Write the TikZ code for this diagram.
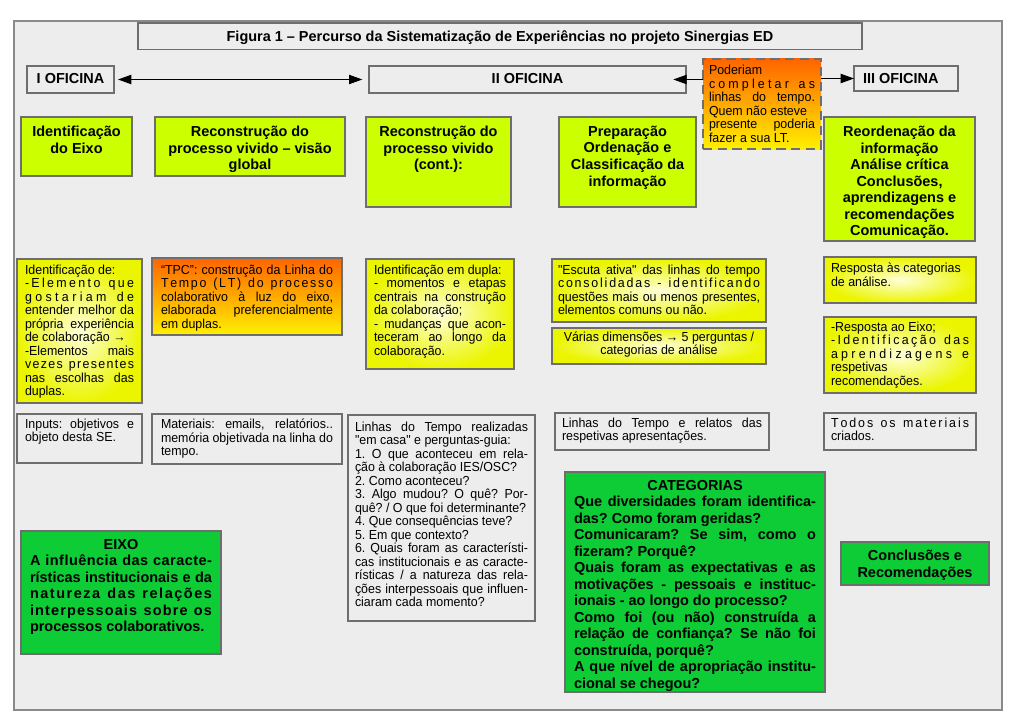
\documentclass[tikz,border=0pt]{standalone}
\usepackage{fontspec}
\setmainfont{Liberation Sans}
\newfontfamily\bodyfam{Liberation Sans}[FakeStretch=0.95]
\usetikzlibrary{arrows.meta}
\definecolor{bgc}{HTML}{EDEDED}
\definecolor{framec}{HTML}{8A8A8A}
\definecolor{bordc}{HTML}{6E6E6E}
\definecolor{limec}{HTML}{CCFF00}
\definecolor{grnc}{HTML}{0DCC35}
\definecolor{orgc}{HTML}{FF6400}
\definecolor{ylwb}{HTML}{FFF000}
\definecolor{ylwin}{HTML}{FFFFD8}
\definecolor{ylwout}{HTML}{EBF500}
\newcommand\bodyf{\bodyfam\fontsize{9.8}{10.1}\selectfont}
\newcommand\headf{\fontsize{10.85}{12.4}\selectfont\bfseries}
\newcommand\JL[1]{\hbox to\linewidth{#1}}
\newcommand\LL[1]{\hbox to\linewidth{#1\hfil}}
\newcommand\CL[1]{\hbox to\linewidth{\hfil#1\hfil}}
\ExplSyntaxOn
\NewDocumentCommand\SP{m}{
  \hbox_to_wd:nn {\linewidth}
    {
      \seq_set_split:Nnn \l_tmpa_seq { ~ } {#1}
      \bool_set_false:N \l_tmpa_bool
      \seq_map_inline:Nn \l_tmpa_seq
        {
          \bool_if:NT \l_tmpa_bool { \c_space_tl \hfil }
          \bool_set_true:N \l_tmpa_bool
          \tl_map_inline:nn {##1} { ####1 \hfil }
        }
      \unskip
    }
}
\ExplSyntaxOff
% name, style, x1, y1, x2, y2, padx, pady, content
\newcommand\mybox[9]{%
  \pgfmathsetmacro\bxw{0.75*(#5-#3)}%
  \pgfmathsetmacro\bxh{0.75*(#6-#4)}%
  \pgfmathsetmacro\bxpx{0.75*#7}%
  \pgfmathsetmacro\bxpy{0.75*#8}%
  \pgfmathsetmacro\bxiw{\bxw-2*\bxpx}%
  \pgfmathsetmacro\bxih{\bxh-2*\bxpy}%
  \node[#2,anchor=north west,inner xsep=\bxpx pt,inner ysep=\bxpy pt,
    minimum width=\bxw pt,minimum height=\bxh pt] (#1) at (#3,#4)
    {\parbox[t][\bxih pt][t]{\bxiw pt}{#9}};%
}
\begin{document}
\frenchspacing
\begin{tikzpicture}[x=0.75pt,y=-0.75pt,
  base/.style={draw=bordc,line width=0.8pt,inner sep=0pt,outer sep=0pt},
  plainbox/.style={base,fill=bgc},
  limebox/.style={base,fill=limec},
  grnbox/.style={base,fill=grnc},
  ylwbox/.style={base,inner color=ylwin,outer color=ylwout},
  orgbox/.style={base,top color=orgc,bottom color=ylwb},
  dshbox/.style={orgbox,dash pattern=on 7pt off 4pt},
  arr/.style={line width=0.75pt,-{Triangle[length=10pt,width=7pt]}},
  darr/.style={line width=0.75pt,{Triangle[length=10pt,width=7pt]}-{Triangle[length=10pt,width=7pt]}}
]
\useasboundingbox (0,0) rectangle (1024,724);
\fill[white] (0,0) rectangle (1024,724);
\draw[framec,fill=bgc,line width=1pt] (14,21) rectangle (1002,710);

\mybox{title}{plainbox}{138}{23}{862}{49}{4}{7.8}{\headf\CL{Figura 1 – Percurso da Sistematização de Experiências no projeto Sinergias ED}}
\mybox{of1}{plainbox}{27}{66}{114}{93}{4}{7.8}{\headf\CL{I OFICINA}}
\mybox{of2}{plainbox}{369}{66}{686}{93}{4}{7.8}{\headf\CL{II OFICINA}}
\mybox{of3}{plainbox}{854}{66}{958}{91}{9}{7.4}{\headf\LL{III OFICINA}}

\mybox{pod}{dshbox}{703}{59}{821}{149}{6}{6.5}{\bodyf
  \LL{Poderiam}\SP{completar as}\JL{linhas do tempo.}\LL{Quem não esteve}\JL{presente poderia}\LL{fazer a sua LT.}}

\draw[darr,shorten <=3pt,shorten >=5pt] (of1.east) -- (of2.west);
\draw[arr,shorten >=-9.5pt] (pod.west |- of2.east) -- (of2.east);
\draw[arr] (pod.east |- of3.west) -- (of3.west);

\mybox{h1}{limebox}{21}{117}{132}{176}{3}{9}{\headf\CL{Identificação}\CL{do Eixo}}
\mybox{h2}{limebox}{155}{117}{345}{176}{3}{9}{\headf\CL{Reconstrução do}\CL{processo vivido – visão}\CL{global}}
\mybox{h3}{limebox}{366}{117}{511}{207}{3}{9}{\headf\CL{Reconstrução do}\CL{processo vivido}\CL{(cont.):}}
\mybox{h4}{limebox}{559}{117}{696}{207}{3}{9}{\headf\CL{Preparação}\CL{Ordenação e}\CL{Classificação da}\CL{informação}}
\mybox{h5}{limebox}{824}{117}{975}{241}{3}{9}{\headf\CL{Reordenação da}\CL{informação}\CL{Análise crítica}\CL{Conclusões,}\CL{aprendizagens e}\CL{recomendações}\CL{Comunicação.}}

\mybox{b1}{ylwbox}{17}{259}{142}{403}{8}{6}{\bodyf
  \LL{Identificação de:}\SP{-Elemento que}\SP{gostariam de}\JL{entender melhor da}\JL{própria experiência}\LL{de colaboração →}\JL{-Elementos mais}\SP{vezes presentes}\JL{nas escolhas das}\LL{duplas.}}
\mybox{b2}{orgbox}{152}{258}{342}{335}{9}{7}{\bodyf
  \JL{“TPC”: construção da Linha do}\SP{Tempo (LT) do processo}\JL{colaborativo à luz do eixo,}\JL{elaborada preferencialmente}\LL{em duplas.}}
\mybox{b3}{ylwbox}{366}{259}{514}{369}{8}{6}{\bodyf
  \LL{Identificação em dupla:}\JL{- momentos e etapas}\JL{centrais na construção}\LL{da colaboração;}\JL{- mudanças que acon-}\JL{teceram ao longo da}\LL{colaboração.}}
\mybox{b4}{ylwbox}{552}{259}{766}{322}{6}{6}{\bodyf
  \JL{"Escuta ativa" das linhas do tempo}\SP{consolidadas - identificando}\JL{questões mais ou menos presentes,}\LL{elementos comuns ou não.}}
\mybox{b5}{ylwbox}{552}{328}{766}{364}{3}{3.5}{\bodyf
  \CL{Várias dimensões → 5 perguntas /}\CL{categorias de análise}}
\mybox{b6}{ylwbox}{824}{257}{976}{303}{7}{6}{\bodyf
  \LL{Resposta às categorias}\LL{de análise.}}
\mybox{b7}{ylwbox}{824}{317}{976}{393}{7}{5}{\bodyf
  \LL{-Resposta ao Eixo;}\SP{-Identificação das}\SP{aprendizagens e}\LL{respetivas}\LL{recomendações.}}

\mybox{m1}{plainbox}{17}{414}{142}{463}{8}{5}{\bodyf
  \JL{Inputs: objetivos e}\LL{objeto desta SE.}}
\mybox{m2}{plainbox}{152}{414}{342}{464}{9}{5}{\bodyf
  \JL{Materiais: emails, relatórios..}\JL{memória objetivada na linha do}\LL{tempo.}}
\mybox{m3}{plainbox}{348}{415}{535}{621}{7}{7}{\bodyf
  \JL{Linhas do Tempo realizadas}\LL{"em casa" e perguntas-guia:}\JL{1. O que aconteceu em rela-}\LL{ção à colaboração IES/OSC?}\LL{2. Como aconteceu?}\JL{3. Algo mudou? O quê? Por-}\LL{quê? / O que foi determinante?}\LL{4. Que consequências teve?}\LL{5. Em que contexto?}\JL{6. Quais foram as característi-}\JL{cas institucionais e as caracte-}\JL{rísticas / a natureza das rela-}\JL{ções interpessoais que influen-}\LL{ciaram cada momento?}}
\mybox{m4}{plainbox}{555}{413}{769}{450}{7}{5}{\bodyf
  \JL{Linhas do Tempo e relatos das}\LL{respetivas apresentações.}}
\mybox{m5}{plainbox}{824}{413}{976}{450}{7}{5}{\bodyf
  \SP{Todos os materiais}\LL{criados.}}

\mybox{eixo}{grnbox}{21}{531}{221}{654}{9}{8}{\headf
  \CL{EIXO}\SP{A influência das caracte-}\JL{rísticas institucionais e da}\SP{natureza das relações}\SP{interpessoais sobre os}\LL{processos colaborativos.}}
\mybox{cat}{grnbox}{565}{472}{825}{692}{9}{8}{\headf
  \CL{CATEGORIAS}\JL{Que diversidades foram identifica-}\LL{das? Como foram geridas?}\JL{Comunicaram? Se sim, como o}\LL{fizeram? Porquê?}\JL{Quais foram as expectativas e as}\JL{motivações - pessoais e instituc-}\LL{ionais - ao longo do processo?}\JL{Como foi (ou não) construída a}\JL{relação de confiança? Se não foi}\LL{construída, porquê?}\JL{A que nível de apropriação institu-}\LL{cional se chegou?}}
\mybox{conc}{grnbox}{841}{542}{989}{585}{4}{8}{\headf
  \CL{Conclusões e}\CL{Recomendações}}
\end{tikzpicture}
\end{document}
